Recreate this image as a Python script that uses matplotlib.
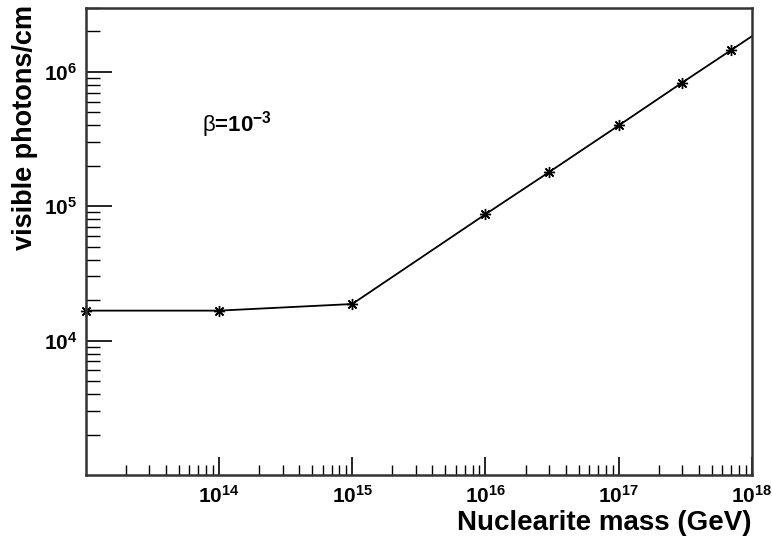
import numpy as np
import matplotlib
matplotlib.use('Agg')
import matplotlib.pyplot as plt
from matplotlib.ticker import LogLocator, NullFormatter

plt.rcParams['font.family'] = ['Liberation Sans', 'DejaVu Sans']
plt.rcParams['mathtext.fontset'] = 'custom'
plt.rcParams['mathtext.rm'] = 'Liberation Sans'
plt.rcParams['mathtext.bf'] = 'Liberation Sans:bold'
plt.rcParams['mathtext.default'] = 'bf'

# nuclearite mass [GeV] and visible photons per cm, beta = 1e-3
mass = [1e13, 1e14, 1e15, 1e16, 3e16, 1e17, 3e17, 7e17, 3e18]
photons = [1.67e4, 1.67e4, 1.87e4, 8.7e4, 1.79e5, 3.98e5, 8.3e5, 1.45e6, 3.8e6]
n_markers = 8  # last point only sets the line going out of the frame

xticks = [1e14, 1e15, 1e16, 1e17, 1e18]
xticklabels = ['$10^{14}$', '$10^{15}$', '$10^{16}$', '$10^{17}$', '$10^{18}$']
yticks = [1e4, 1e5, 1e6]
yticklabels = ['$10^{4}$', '$10^{5}$', '$10^{6}$']

fig = plt.figure(figsize=(7.72, 5.39), dpi=100)
ax = fig.add_axes([0.111, 0.1187, 0.863, 0.8673])

ax.plot(mass, photons, color='black', lw=1.3)
ax.plot(mass[:n_markers], photons[:n_markers], ls='none', marker=(8, 2, 0),
        ms=8, mew=1.0, color='black', clip_on=False)

ax.set_xscale('log')
ax.set_yscale('log')
ax.set_xlim(1e13, 1e18)
ax.set_ylim(1e3, 3e6)

ax.set_xticks(xticks)
ax.set_xticklabels(xticklabels)
ax.set_yticks(yticks)
ax.set_yticklabels(yticklabels)
ax.xaxis.set_minor_locator(LogLocator(base=10, subs=np.arange(2, 10), numticks=20))
ax.yaxis.set_minor_locator(LogLocator(base=10, subs=np.arange(2, 10), numticks=20))
ax.xaxis.set_minor_formatter(NullFormatter())
ax.yaxis.set_minor_formatter(NullFormatter())

ax.tick_params(axis='x', which='major', direction='in', length=13, width=1.2,
               labelsize=15, pad=7, top=False)
ax.tick_params(axis='x', which='minor', direction='in', length=7, width=1.0, top=False)
ax.tick_params(axis='y', which='major', direction='in', length=19, width=1.2,
               labelsize=15, pad=6, right=False)
ax.tick_params(axis='y', which='minor', direction='in', length=10, width=1.0, right=False)

for s in ax.spines.values():
    s.set_linewidth(1.8)
    s.set_color('#333333')

ax.set_xlabel('Nuclearite mass (GeV)', fontsize=20, fontweight='bold')
ax.xaxis.set_label_coords(1.0, -0.118)
ax.xaxis.label.set_horizontalalignment('right')
ax.xaxis.label.set_verticalalignment('baseline')
ax.set_ylabel('visible photons/cm', fontsize=19.5, fontweight='bold')
ax.yaxis.set_label_coords(-0.072, 1.005)
ax.yaxis.label.set_horizontalalignment('right')

ax.text(0.1746, 0.75, r'$\mathrm{\beta}$=10$^{-3}$', transform=ax.transAxes,
        fontsize=16, fontweight='bold', ha='left', va='center')

fig.savefig('out.png', dpi=100)
